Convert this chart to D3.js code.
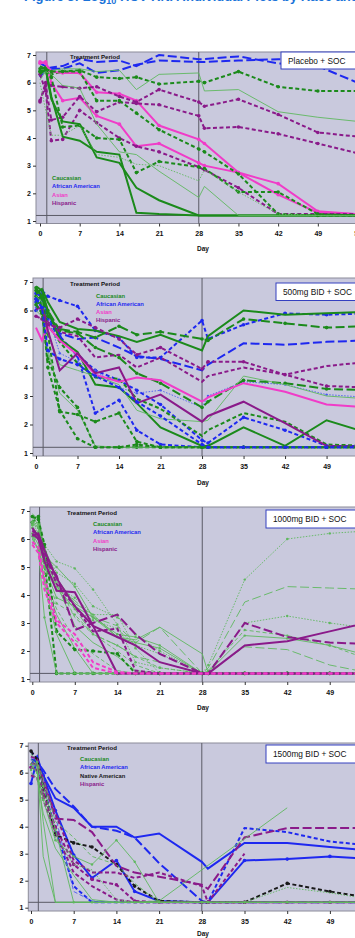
<!DOCTYPE html>
<html>
<head>
<meta charset="utf-8">
<script src="https://cdn.jsdelivr.net/npm/d3@7"></script>
<style>
  html, body { margin: 0; padding: 0; background: #fff; }
  svg { display: block; font-family: "Liberation Sans", Arial, sans-serif; }
</style>
</head>
<body>
<div id="viz"></div>
<script>
// ---- data ----
const DAYS = [0, 1, 2, 4, 7, 10, 14, 17, 21, 28, 29, 35, 42, 49, 56];
const X_TICKS = [0, 7, 14, 21, 28, 35, 42, 49, 56];
const Y_TICKS = [1, 2, 3, 4, 5, 6, 7];
const LLOQ = 1.2;
const REF_DAYS = [1.2, 28];
const PANEL_TITLES = ['Placebo + SOC', '500mg BID + SOC', '1000mg BID + SOC', '1500mg BID + SOC'];
const RACE_NAMES = { C: 'Caucasian', AA: 'African American', A: 'Asian', H: 'Hispanic', N: 'Native American' };
const PANEL_LEGENDS = [['C', 'AA', 'A', 'H'], ['C', 'AA', 'A', 'H'], ['C', 'AA', 'A', 'H'], ['C', 'AA', 'N', 'H']];

const p1Race = ['AA', 'AA', 'C', 'C', 'A', 'A', 'H', 'H', 'H', 'C', 'C', 'C', 'C', 'C', 'C'];
const p1Values = [
  [6.2, 6.5, 6.55, 6.6, 6.85, 6.75, 6.8, 6.6, 7.0, 6.85, 6.85, 6.95, 6.7, 6.6, 6.0],
  [6.7, 6.6, 6.5, 6.5, 6.7, 6.35, 6.45, 6.65, 6.8, 6.75, 6.75, 6.8, 6.85, 6.75, 6.7],
  [6.5, 6.55, 6.3, 6.4, 6.45, 6.2, 6.15, 6.2, 5.95, 6.05, 6.0, 6.4, 5.85, 5.7, 5.7],
  [6.3, 6.4, null, 6.5, 6.5, 6.4, 6.45, 5.75, 6.3, 6.35, 5.7, 5.75, 4.95, 4.75, 4.6],
  [6.75, 6.7, 6.4, 6.35, 6.35, 5.65, 5.6, 5.35, 4.45, 3.95, 3.8, 2.75, 2.35, 1.35, 1.25],
  [6.7, 6.75, 6.0, 5.35, 5.45, 4.8, 4.5, 3.7, 3.8, 3.1, 3.0, 2.75, 1.95, 1.3, 1.25],
  [5.3, 6.0, 5.9, 5.85, 5.8, 5.85, 5.5, 5.3, 5.75, 5.3, 5.15, 5.4, 4.85, 4.2, 4.05],
  [5.35, 5.9, 4.65, 4.75, 5.5, 4.95, 5.3, 5.25, 5.2, 4.8, 4.35, 4.4, 4.15, 3.8, 3.45],
  [6.3, 5.7, 3.9, 3.95, 5.0, 4.55, 4.0, 3.7, 3.5, 2.95, 2.85, 2.2, 1.25, 1.25, 1.25],
  [6.6, 6.5, 5.5, 4.05, 3.9, 3.5, 3.4, 1.3, 1.25, 1.2, 1.2, 1.2, 1.2, 1.2, 1.2],
  [6.3, 6.5, 5.4, 4.6, 4.5, 3.3, 3.1, 2.2, 1.75, 1.2, 1.2, 1.2, 1.2, 1.2, 1.2],
  [6.4, 6.45, 6.2, 4.4, 4.45, 4.0, 3.95, 2.75, 3.15, 2.95, 2.9, 2.05, 2.05, 1.25, 1.2],
  [6.4, 6.5, 6.4, 6.4, 6.4, 5.35, 5.35, 4.9, 4.3, 3.6, 3.5, 2.7, 1.25, 1.2, 1.2],
  [6.0, 5.0, 4.1, 4.1, 4.45, 3.4, 3.3, 3.05, 3.0, 2.45, 2.85, 2.05, 1.25, 1.2, 1.2],
  [6.1, 6.4, 6.3, 5.9, 5.8, 4.5, 3.5, 3.4, 2.8, 1.85, 2.25, 1.2, 1.2, 1.2, 1.2]
];

const p2Race = ['AA', 'AA', 'AA', 'AA', 'AA', 'C', 'C', 'C', 'C', 'C', 'C', 'C', 'C', 'C', 'A', 'H', 'H', 'H', 'C', 'AA'];
const p2Values = [
  [6.3, 6.7, 6.5, 6.35, 6.15, 5.3, 5.05, 4.35, 4.35, 5.65, 5.0, 5.5, 5.9, 5.85, 5.9],
  [6.2, 6.6, 5.9, 5.2, 5.0, 5.05, 4.7, 4.4, 4.3, 3.9, 4.1, 4.85, 4.8, 4.9, 4.95],
  [6.6, 6.5, 5.8, 5.1, 4.4, 2.4, 2.85, 1.8, 1.3, 1.2, 1.2, 1.2, 1.2, 1.2, 1.2],
  [6.0, 6.3, 5.7, 5.0, 4.45, 3.9, 3.55, 3.2, 2.7, 1.45, 1.35, 2.25, 1.8, 1.25, 1.25],
  [6.1, 6.0, 5.8, 4.5, 4.2, 3.9, 3.3, 3.1, 3.2, 2.6, 3.0, 3.5, 3.4, 3.05, 2.95],
  [6.85, 6.7, 6.0, 5.0, 4.55, 3.4, 3.3, 2.75, 1.9, 1.25, 1.25, 1.9, 1.25, 2.15, 1.7],
  [6.6, 6.75, 6.3, 5.6, 5.35, 5.3, 5.1, 4.9, 5.15, 4.6, 5.1, 6.0, 5.85, 5.9, 5.95],
  [6.8, 6.5, 5.8, 5.35, 5.25, 5.05, 5.45, 5.15, 5.25, 5.0, 4.95, 5.7, 5.55, 5.4, 5.45],
  [6.7, 6.4, 5.2, 2.45, 2.35, 2.1, 2.4, 1.4, 1.2, 1.2, 1.2, 1.2, 1.2, 1.2, 1.2],
  [6.5, 6.2, 4.0, 2.5, 1.5, 1.2, 1.2, 1.2, 1.2, 1.2, 1.2, 1.2, 1.2, 1.2, 1.2],
  [6.3, 6.2, 5.5, 4.9, 4.15, 3.65, 3.6, 2.9, 2.55, 1.6, 1.8, 2.4, 2.1, 1.3, 1.25],
  [6.4, 6.5, 6.0, 5.3, 5.2, 4.7, 4.35, 3.8, 3.45, 2.6, 2.8, 3.55, 3.45, 3.25, 3.2],
  [6.5, 6.3, 4.6, 3.1, 2.5, 1.25, 1.2, 1.2, 1.2, 1.2, 1.2, 1.2, 1.2, 1.2, 1.2],
  [6.0, 5.8, 5.2, 4.1, 3.9, 3.7, 3.4, 2.5, 2.2, 2.1, 2.15, 3.7, 3.4, 3.0, 2.9],
  [5.4, 4.95, 5.45, 4.95, 4.45, 3.75, 3.5, 3.65, 3.55, 2.8, 2.95, 3.45, 3.15, 2.7, 2.6],
  [6.05, 6.1, 5.3, 3.9, 4.5, 3.8, 4.0, 2.75, 3.05, 2.1, 2.3, 2.8, 2.05, 1.25, 1.2],
  [5.8, 5.7, 5.5, 5.4, 5.7, 5.4, 5.0, 4.45, 4.7, 3.95, 4.2, 4.2, 3.75, 3.35, 3.3],
  [6.2, 6.0, 5.6, 5.25, 5.1, 4.35, 4.45, 4.0, 4.35, 3.5, 3.7, 4.0, 3.75, 4.05, 4.2],
  [6.2, 5.9, 4.3, 3.3, 2.6, 1.2, 1.2, 1.3, 1.2, 1.2, 1.2, 1.2, 1.2, 1.2, 1.2],
  [6.4, 6.1, 4.6, 4.3, 4.1, 3.7, 3.3, 2.8, 2.3, 1.3, 1.2, 1.2, 1.2, 1.2, 1.2]
];

const p3Race = ['C', 'C', 'C', 'C', 'C', 'C', 'C', 'C', 'C', 'C', 'C', 'C', 'C', 'C', 'C', 'C', 'C', 'C', 'H', 'H', 'H', 'H', 'A', 'A'];
const p3Values = [
  [6.6, 6.8, 5.2, 1.2, 1.2, 1.2, 1.2, 1.2, 1.2, 1.2, 1.2, 1.2, 1.2, 1.2, 1.2],
  [6.5, 6.4, 5.8, 5.2, 4.95, 4.2, 2.95, 1.6, 1.4, 1.2, 1.2, 1.2, 1.2, 1.2, 1.2],
  [6.2, 6.4, 5.6, 4.8, 4.4, 3.6, 3.2, 2.6, 2.0, 1.2, 1.5, 4.55, 6.0, 6.2, 6.3],
  [6.0, 6.3, 5.3, 4.4, 3.8, 3.2, 2.9, 2.3, 2.85, 1.2, 1.4, 3.75, 4.3, 4.25, 4.2],
  [6.6, 6.2, 5.0, 4.2, 3.5, 3.1, 2.8, 2.2, 1.9, 1.2, 1.2, 3.0, 3.25, 3.0, 2.8],
  [6.4, 6.0, 4.8, 3.7, 3.3, 2.6, 2.2, 1.8, 1.4, 1.2, 1.3, 2.75, 2.55, 2.2, 1.65],
  [6.8, 6.5, 5.0, 3.9, 3.6, 3.2, 2.5, 2.3, 2.1, 1.2, 1.25, 2.55, 2.45, 2.2, 1.8],
  [6.5, 6.6, 5.2, 4.3, 3.5, 2.6, 2.2, 1.8, 1.6, 1.2, 1.25, 2.15, 2.05, 1.5, 1.2],
  [6.9, 6.7, 5.7, 4.6, 3.7, 3.3, 2.5, 2.4, 2.85, 1.9, 1.2, 1.2, 1.2, 1.2, 1.2],
  [6.2, 5.8, 4.5, 3.3, 2.1, 1.2, 1.2, 1.2, 1.2, 1.2, 1.2, 1.2, 1.2, 1.2, 1.2],
  [6.1, 5.6, 3.2, 1.2, 1.2, 1.2, 1.2, 1.2, 1.2, 1.2, 1.2, 1.2, 1.2, 1.2, 1.2],
  [6.7, 6.4, 5.6, 4.5, 3.2, 2.6, 2.0, 1.5, 1.2, 1.2, 1.2, 1.2, 1.2, 1.2, 1.2],
  [5.8, 6.3, 5.3, 4.4, 2.9, 2.3, 1.8, 1.3, 1.2, 1.2, 1.2, 1.2, 1.2, 1.2, 1.2],
  [6.5, 6.0, 5.0, 4.3, 3.9, 3.3, 3.3, 2.1, 1.2, 1.2, 1.2, 1.2, 1.2, 1.2, 1.2],
  [6.6, 6.4, 5.4, 5.0, 4.3, 3.2, 2.6, 2.5, 2.2, 1.2, 1.2, 1.2, 1.2, 1.2, 1.2],
  [6.0, 5.6, 4.6, 3.5, 2.4, 1.9, 1.3, 1.2, 1.2, 1.2, 1.2, 1.2, 1.2, 1.2, 1.2],
  [6.8, 6.7, 5.8, 2.7, 2.05, 2.0, 1.9, 1.2, 1.2, 1.2, 1.2, 1.2, 1.2, 1.2, 1.2],
  [6.4, 6.0, 4.4, 2.6, 1.2, 1.2, 1.2, 1.2, 1.2, 1.2, 1.2, 1.2, 1.2, 1.2, 1.2],
  [6.2, 6.0, 5.2, 4.15, 4.1, 2.9, 1.2, 1.2, 1.2, 1.2, 1.2, 1.2, 1.2, 1.2, 1.2],
  [6.4, 6.1, 5.3, 4.7, 2.75, 3.0, 3.3, 2.6, 1.9, 1.2, 1.2, 3.0, 2.5, 2.3, 2.25],
  [6.1, 6.2, 5.6, 4.6, 3.6, 2.9, 2.5, 2.2, 1.6, 1.2, 1.2, 2.2, 2.35, 2.7, 3.05],
  [6.3, 6.1, 5.5, 4.4, 3.6, 2.7, 2.8, 1.3, 1.2, 1.2, 1.2, 1.2, 1.2, 1.2, 1.2],
  [5.9, 5.7, 4.6, 3.1, 2.6, 1.6, 1.25, 1.2, 1.2, 1.2, 1.2, 1.2, 1.2, 1.2, 1.2],
  [5.8, 5.5, 4.2, 3.0, 2.3, 1.4, 1.2, 1.2, 1.2, 1.2, 1.2, 1.2, 1.2, 1.2, 1.2]
];

const p4Race = ['AA', 'AA', 'AA', 'AA', 'AA', 'N', 'H', 'H', 'H', 'H', 'C', 'C', 'C', 'C', 'C', 'C', 'C'];
const p4Values = [
  [6.3, 6.6, 5.9, 5.05, 4.7, 4.0, 4.0, 3.6, 3.75, 2.7, 2.45, 3.4, 3.4, 3.25, 3.1],
  [6.5, 6.4, 6.1, 5.4, 4.75, 4.0, 3.85, 3.6, 2.65, 1.25, 1.2, 1.2, 1.2, 1.2, 1.2],
  [5.6, 6.5, 5.9, 4.6, 2.95, 2.1, 2.75, 1.6, 1.25, 1.2, 1.2, 2.75, 2.8, 2.9, 2.8],
  [6.8, 6.5, 5.5, 3.9, 1.8, 1.2, 1.2, 1.2, 1.2, 1.2, 1.2, 3.95, 3.8, 3.45, 3.3],
  [6.3, 6.2, 5.5, 4.4, 1.6, 1.25, 1.2, 1.2, 1.2, 1.2, 1.2, 1.2, 1.2, 1.2, 1.2],
  [6.8, 6.5, 5.5, 3.7, 3.4, 3.25, 2.6, 1.8, 1.25, 1.2, 1.2, 1.2, 1.9, 1.6, 1.35],
  [6.35, 6.3, 5.8, 4.3, 4.25, 3.8, 2.55, 2.3, 2.15, 1.85, 1.7, 3.6, 3.95, 3.95, 3.95],
  [6.6, 6.5, 5.6, 4.5, 2.75, 2.3, 2.3, 2.1, 2.3, 1.8, 1.2, 3.0, null, null, null],
  [5.9, 5.8, 5.0, 3.8, 2.3, 1.8, 1.3, 1.2, 1.2, 1.2, 1.2, 1.2, 1.2, 1.2, 1.2],
  [6.2, 6.1, 5.2, 4.0, 2.6, 2.05, 1.85, 1.25, 1.2, 1.2, 1.2, 1.2, 1.2, 1.2, 1.2],
  [6.4, 6.2, 4.2, 1.2, 1.2, 1.2, 1.2, 1.2, 1.2, 1.2, 1.2, 1.2, 1.2, 1.2, 1.2],
  [6.3, 6.0, 5.0, 3.5, 2.9, 2.6, 3.5, 2.7, 1.2, 1.2, 1.2, 1.2, 1.2, 1.2, 1.2],
  [6.0, 5.8, 4.5, 3.2, 2.2, 1.3, 1.2, 1.2, 1.25, null, null, null, 4.7, null, null],
  [6.5, 6.3, 2.9, 1.2, 1.2, 1.2, 1.2, 1.2, 1.2, 1.2, 1.2, 1.2, 1.2, 1.2, 1.2],
  [6.1, 6.4, 5.5, 3.9, 1.2, 1.2, 1.2, 1.2, 1.2, 1.2, 1.2, 1.2, 1.2, 1.2, 1.2],
  [6.2, 6.0, 5.2, 3.6, 2.6, 2.4, 1.3, 1.2, 1.2, 1.2, 1.2, 1.2, 1.75, 1.55, 1.3],
  [6.7, 6.4, 5.8, 4.2, 3.6, 2.9, 2.6, 1.9, 1.2, 1.2, 1.2, 1.2, 1.2, 1.2, 1.2]
];

// ---- styles: [dash s/d/l/o][weight b/t][m = markers] ----
const p1Style = ['lb', 'lb', 'dbm', 'st', 'sbm', 'sbm', 'dbm', 'dbm', 'dbm', 'sb', 'sb', 'dbm', 'dbm', 'ot', 'st'];
const p2Style = ['dbm', 'lb', 'dbm', 'dbm', 'otm', 'sb', 'sb', 'lbm', 'dbm', 'dbm', 'db', 'lbm', 'st', 'st', 'sb', 'sb', 'dbm', 'db', 'dbm', 'dbm'];
const p3Style = ['dbm', 'otm', 'otm', 'lt', 'otm', 'dtm', 'stm', 'lt', 'st', 'st', 'stm', 'dt', 'st', 'otm', 'stm', 'dt', 'dbm', 'st', 'sb', 'lb', 'sb', 'db', 'db', 'db'];
const p4Style = ['sb', 'lb', 'sbm', 'db', 'dt', 'dbm', 'lb', 'db', 'db', 'dbm', 'st', 'stm', 'st', 'st', 'stm', 'ot', 'dt'];

const COLORS = {
  C: ['#1b8a1b', '#5fb85f'],
  AA: ['#1e28f0', '#4a5cf0'],
  A: ['#f03cc8', '#f070d8'],
  H: ['#8a1a8a', '#9a4a9a'],
  N: ['#1a1a1a', '#444444']
};
const DASHES = { s: null, d: '4,2.5', l: '9,3.5', o: '1.5,1.5' };

// panel geometry (pixels)
const LAYOUT = [
  { day0: 40, perDay: 5.67, left: 36, y7: 55, y1: 221, top: 52, bottom: 223.5, box: [281, 52, 17], tp: [95, 59], leg: [52, 180], tickC: 234, dayY: 251 },
  { day0: 36, perDay: 5.93, left: 33, y7: 282, y1: 453, top: 278, bottom: 456, box: [276, 283, 17.5], tp: [95, 286], leg: [96, 297.5], tickC: 467, dayY: 484.5 },
  { day0: 32.3, perDay: 6.07, left: 30, y7: 511, y1: 679, top: 507, bottom: 682, box: [266, 510, 18], tp: [92, 515], leg: [93, 526], tickC: 693, dayY: 709.5 },
  { day0: 31, perDay: 6.1, left: 28.3, y7: 745.7, y1: 907.7, top: 743, bottom: 911, box: [266, 745, 18], tp: [92, 750], leg: [80, 761], tickC: 922, dayY: 935.5 }
];

const PANELS = [
  { race: p1Race, values: p1Values, style: p1Style },
  { race: p2Race, values: p2Values, style: p2Style },
  { race: p3Race, values: p3Values, style: p3Style },
  { race: p4Race, values: p4Values, style: p4Style }
];

const W = 355, H = 938;
const svg = d3.select('#viz').append('svg').attr('width', W).attr('height', H);

// title, mostly cut off at the top edge as in the source
const title = svg.append('text')
  .attr('x', 24).attr('y', 1)
  .attr('font-size', 13).attr('font-weight', 'bold').attr('fill', '#1a73d9')
  .text('Figure 3: Log');
title.append('tspan').attr('font-size', 9).attr('dy', 3).text('10');
title.append('tspan').attr('dy', -3).text(' HCV RNA Individual Plots by Race and Day');

function drawPanel(i) {
  const L = LAYOUT[i];
  const P = PANELS[i];
  const x = d3.scaleLinear().domain([0, 56]).range([L.day0, L.day0 + 56 * L.perDay]);
  const y = d3.scaleLinear().domain([1, 7]).range([L.y1, L.y7]);
  const g = svg.append('g');

  g.append('rect')
    .attr('x', L.left).attr('y', L.top)
    .attr('width', W + 10 - L.left).attr('height', L.bottom - L.top)
    .attr('fill', '#c9c9dd').attr('stroke', '#8c8c9a').attr('stroke-width', 1);

  const clipId = 'clip' + i;
  g.append('clipPath').attr('id', clipId).append('rect')
    .attr('x', L.left).attr('y', L.top)
    .attr('width', W + 10 - L.left).attr('height', L.bottom - L.top);

  // reference lines
  g.selectAll('.vref').data(REF_DAYS).join('line')
    .attr('x1', d => x(d)).attr('x2', d => x(d))
    .attr('y1', L.top).attr('y2', L.bottom)
    .attr('stroke', '#5a5a66').attr('stroke-width', 1);
  g.append('line')
    .attr('x1', L.left).attr('x2', W + 10)
    .attr('y1', y(LLOQ)).attr('y2', y(LLOQ))
    .attr('stroke', '#5a5a66').attr('stroke-width', 1);

  // subject lines
  const plot = g.append('g').attr('clip-path', `url(#${clipId})`);
  const line = d3.line().x(d => x(d[0])).y(d => y(d[1]));
  P.values.forEach((vals, k) => {
    const code = P.style[k];
    const bold = code[1] === 'b';
    const col = COLORS[P.race[k]][bold ? 0 : 1];
    const pts = DAYS.map((d, j) => [d, vals[j]]).filter(p => p[1] != null);
    plot.append('path')
      .attr('d', line(pts))
      .attr('fill', 'none')
      .attr('stroke', col)
      .attr('stroke-width', bold ? 2 : 1)
      .attr('stroke-opacity', bold ? 1 : 0.9)
      .attr('stroke-dasharray', DASHES[code[0]]);
    if (code.includes('m')) {
      plot.selectAll(null).data(pts).join('circle')
        .attr('cx', d => x(d[0])).attr('cy', d => y(d[1]))
        .attr('r', bold ? 1.8 : 1.2)
        .attr('fill', col);
    }
  });

  // axes (only ticks that fall on the page; panel 1 shows a clipped "56")
  const xTicks = X_TICKS.filter(d => x(d) < W + 4);
  g.append('g')
    .attr('transform', `translate(${L.left},0)`)
    .call(d3.axisLeft(y).tickValues(Y_TICKS).tickSize(3).tickPadding(2).tickFormat(d3.format('d')))
    .call(a => a.select('.domain').remove())
    .call(a => a.selectAll('line').attr('stroke', '#333'))
    .call(a => a.selectAll('text').attr('font-size', 7).attr('font-weight', 'bold').attr('fill', '#111'));

  g.append('g')
    .attr('transform', `translate(0,${L.bottom})`)
    .call(d3.axisBottom(x).tickValues(xTicks).tickSize(3).tickFormat(d3.format('d')))
    .call(a => a.select('.domain').remove())
    .call(a => a.selectAll('line').attr('stroke', '#333'))
    .call(a => a.selectAll('text')
      .attr('y', L.tickC - L.bottom - 2.5)
      .attr('font-size', 7).attr('font-weight', 'bold').attr('fill', '#111'));

  g.append('text')
    .attr('x', 203).attr('y', L.dayY)
    .attr('text-anchor', 'middle')
    .attr('font-size', 6.5).attr('font-weight', 'bold').attr('fill', '#111')
    .text('Day');

  // treatment period caption
  g.append('text')
    .attr('x', L.tp[0]).attr('y', L.tp[1])
    .attr('text-anchor', 'middle')
    .attr('font-size', 6.1).attr('font-weight', 'bold').attr('fill', '#111')
    .text('Treatment Period');

  // race legend
  g.selectAll('.leg').data(PANEL_LEGENDS[i]).join('text')
    .attr('x', L.leg[0])
    .attr('y', (d, j) => L.leg[1] + j * 8.3)
    .attr('font-size', 5.8).attr('font-weight', 'bold')
    .attr('fill', d => COLORS[d][0])
    .text(d => RACE_NAMES[d]);

  // dose group box
  g.append('rect')
    .attr('x', L.box[0]).attr('y', L.box[1])
    .attr('width', 100).attr('height', L.box[2])
    .attr('fill', '#fff').attr('stroke', '#3440c0').attr('stroke-width', 1);
  g.append('text')
    .attr('x', L.box[0] + 7).attr('y', L.box[1] + L.box[2] / 2 + 3)
    .attr('font-size', 8.3).attr('fill', '#111')
    .text(PANEL_TITLES[i]);
}

PANELS.forEach((p, i) => drawPanel(i));
</script>
</body>
</html>
